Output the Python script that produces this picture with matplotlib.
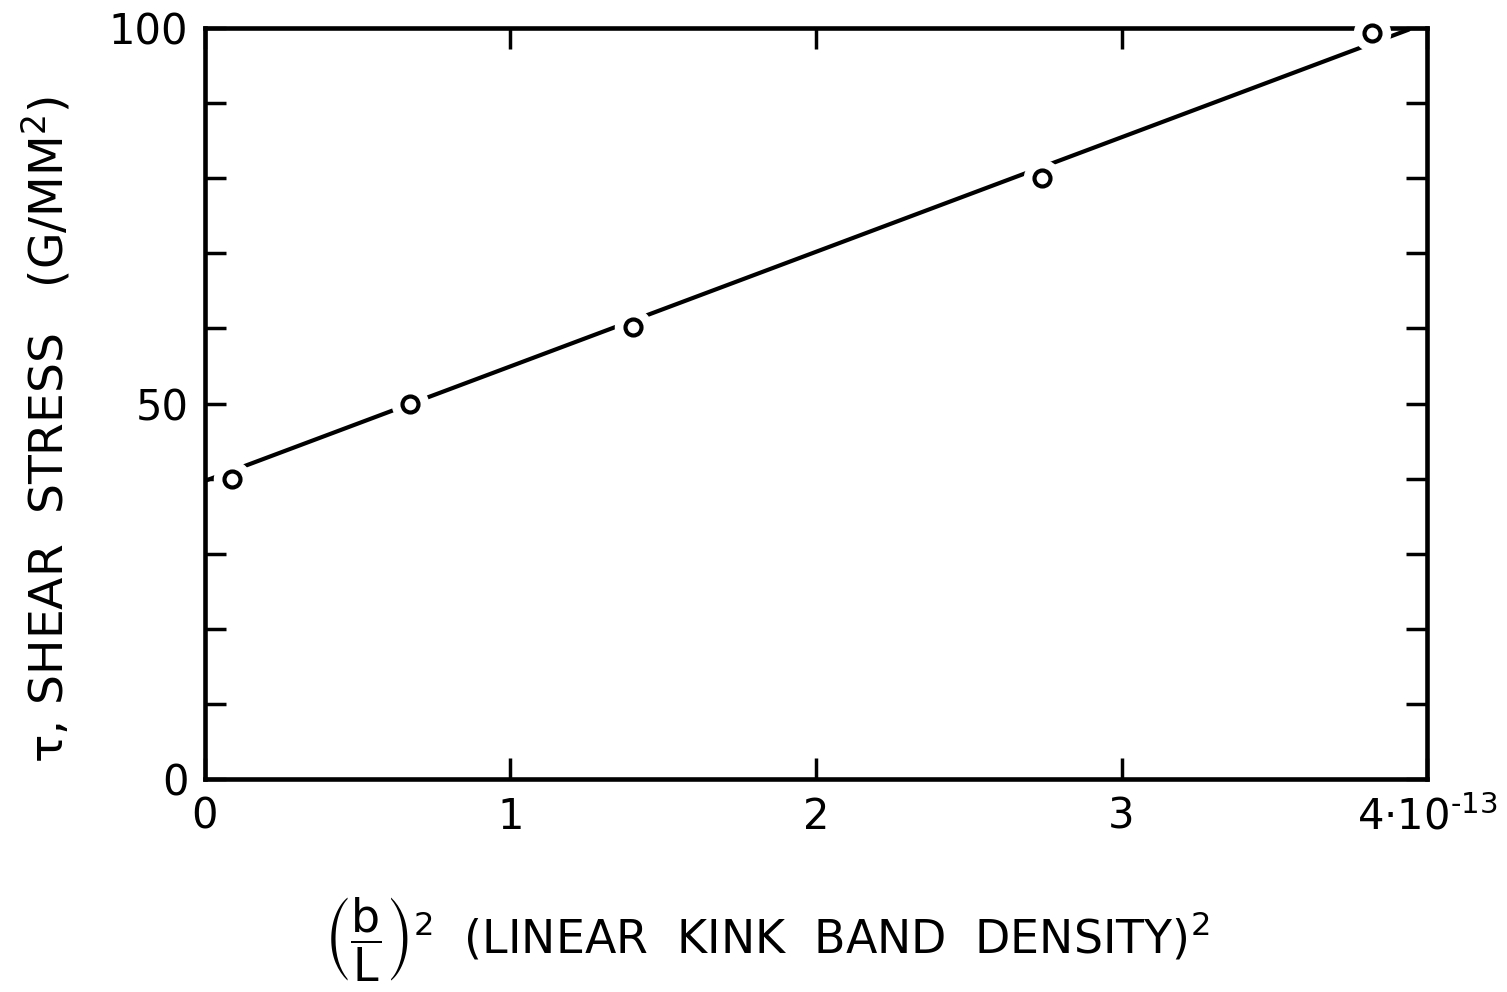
import matplotlib
matplotlib.use("Agg")
import matplotlib.pyplot as plt

# data (x in units of 1e-13)
density_sq = [0.09, 0.67, 1.40, 2.74, 3.82]
shear_stress = [40.0, 50.0, 60.2, 80.0, 99.4]
fit_x = [0.0, 3.94]
fit_y = [39.7, 99.8]

x_ticks = [0, 1, 2, 3, 4]
x_ticklabels = ["0", "1", "2", "3", "4\u00b710$^{\u201013}$"]
y_ticks = list(range(0, 101, 10))
y_ticklabels = ["0", "", "", "", "", "50", "", "", "", "", "100"]

plt.rcParams['font.family'] = ['DejaVu Sans']
plt.rcParams['mathtext.default'] = 'regular'

fig = plt.figure(figsize=(15.07, 9.92), dpi=100)
ax = fig.add_axes([0.136, 0.2147, 0.811, 0.757])

ax.plot(fit_x, fit_y, color='black', lw=3.0, solid_capstyle='round', zorder=2, clip_on=True)
ax.plot(density_sq, shear_stress, 'o', ms=26, mfc='white', mec='white', zorder=3, clip_on=False)
ax.plot(density_sq, shear_stress, 'o', ms=11.5, mfc='white', mec='black', mew=3.0, zorder=4, clip_on=False)

ax.set_xlim(0, 4)
ax.set_ylim(0, 100)
ax.set_xticks(x_ticks)
ax.set_xticklabels(x_ticklabels)
ax.set_yticks(y_ticks)
ax.set_yticklabels(y_ticklabels)

ax.tick_params(direction='in', length=15, width=2.5, top=True, right=True,
               labelsize=30, pad=12)
for s in ax.spines.values():
    s.set_linewidth(3.3)

ax.set_xlabel(r'$\left(\dfrac{b}{L}\right)^2$  (LINEAR  KINK  BAND  DENSITY)$^2$', fontsize=33)
ax.xaxis.set_label_coords(0.46, -0.155)
ax.set_ylabel(r'$\tau$, SHEAR  STRESS   (G/MM$^2$)', fontsize=34)
ax.yaxis.set_label_coords(-0.108, 0.465)

fig.savefig('out.png', dpi=100)
